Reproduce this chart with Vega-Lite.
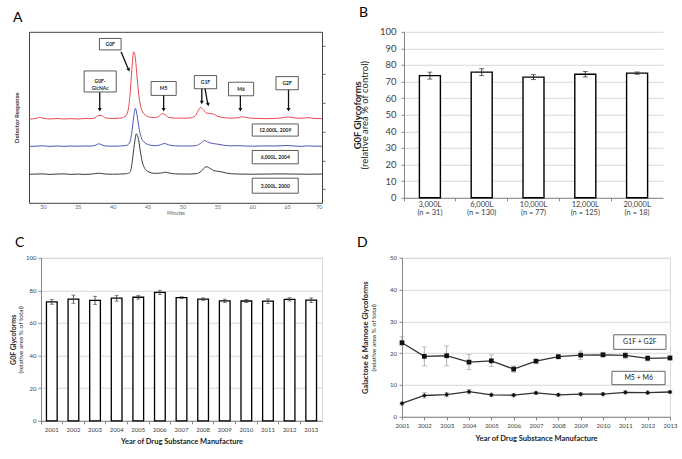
{
"$schema": "https://vega.github.io/schema/vega-lite/v6.json",
"background": "white",
"padding": {"left": 8, "top": 5.8, "right": 0, "bottom": 0},
"config": {
  "font": "Lato",
  "view": {"stroke": null},
  "title": {"anchor": "start", "frame": "group", "fontSize": 14, "fontWeight": "normal", "baseline": "alphabetic", "color": "#000", "font": "Lato"},
  "axis": {"labelColor": "#404040", "titleColor": "#222", "domainColor": "#868686", "tickColor": "#868686", "gridColor": "#d9d9d9", "labelFont": "Lato", "titleFont": "Lato"}
},
"datasets": {
  "trace": [
    {"s":"r","t":28,"y":49.0},{"s":"r","t":29,"y":49.3},{"s":"r","t":29.5,"y":50.0},{"s":"r","t":30,"y":49.5},{"s":"r","t":31,"y":49.0},{"s":"r","t":32,"y":49.3},{"s":"r","t":33,"y":49.0},{"s":"r","t":34,"y":49.2},{"s":"r","t":35,"y":49.0},{"s":"r","t":36,"y":49.3},{"s":"r","t":37,"y":49.2},{"s":"r","t":37.6,"y":50.0},{"s":"r","t":38,"y":51.2},{"s":"r","t":38.4,"y":51.0},{"s":"r","t":39,"y":49.6},{"s":"r","t":40,"y":49.3},{"s":"r","t":41,"y":49.5},{"s":"r","t":41.8,"y":50.5},{"s":"r","t":42.2,"y":54},{"s":"r","t":42.5,"y":64},{"s":"r","t":42.75,"y":78},{"s":"r","t":43.0,"y":88.2},{"s":"r","t":43.2,"y":86},{"s":"r","t":43.5,"y":73},{"s":"r","t":43.8,"y":61},{"s":"r","t":44.1,"y":55},{"s":"r","t":44.5,"y":52},{"s":"r","t":45,"y":50.5},{"s":"r","t":45.5,"y":50.0},{"s":"r","t":46,"y":49.8},{"s":"r","t":46.6,"y":50.5},{"s":"r","t":47.1,"y":52.2},{"s":"r","t":47.5,"y":51.5},{"s":"r","t":48,"y":50.0},{"s":"r","t":49,"y":49.5},{"s":"r","t":50,"y":49.5},{"s":"r","t":51,"y":49.6},{"s":"r","t":51.8,"y":50.6},{"s":"r","t":52.2,"y":53.5},{"s":"r","t":52.6,"y":55.8},{"s":"r","t":53,"y":54.5},{"s":"r","t":53.4,"y":52.5},{"s":"r","t":54,"y":52.2},{"s":"r","t":54.5,"y":51.8},{"s":"r","t":55,"y":50.6},{"s":"r","t":56,"y":49.8},{"s":"r","t":57,"y":49.5},{"s":"r","t":58,"y":49.8},{"s":"r","t":58.6,"y":50.3},{"s":"r","t":59.5,"y":49.6},{"s":"r","t":61,"y":49.3},{"s":"r","t":62,"y":49.2},{"s":"r","t":63,"y":49.3},{"s":"r","t":64,"y":49.5},{"s":"r","t":65.2,"y":50.2},{"s":"r","t":66,"y":49.7},{"s":"r","t":67,"y":49.4},{"s":"r","t":68,"y":49.8},{"s":"r","t":69,"y":49.3},{"s":"r","t":70,"y":49.2},
    {"s":"b","t":28,"y":33.0},{"s":"b","t":29,"y":33.1},{"s":"b","t":30,"y":33.3},{"s":"b","t":31,"y":33.0},{"s":"b","t":32,"y":33.2},{"s":"b","t":33,"y":33.0},{"s":"b","t":34,"y":33.2},{"s":"b","t":35,"y":33.1},{"s":"b","t":36,"y":33.2},{"s":"b","t":37,"y":33.2},{"s":"b","t":37.6,"y":33.8},{"s":"b","t":38,"y":34.5},{"s":"b","t":38.5,"y":33.8},{"s":"b","t":39,"y":33.2},{"s":"b","t":40,"y":33.1},{"s":"b","t":41,"y":33.2},{"s":"b","t":42,"y":33.6},{"s":"b","t":42.4,"y":35},{"s":"b","t":42.7,"y":40},{"s":"b","t":43.0,"y":50},{"s":"b","t":43.25,"y":55.3},{"s":"b","t":43.5,"y":51},{"s":"b","t":43.8,"y":43},{"s":"b","t":44.1,"y":38},{"s":"b","t":44.5,"y":35.5},{"s":"b","t":45,"y":34.2},{"s":"b","t":45.5,"y":33.6},{"s":"b","t":46,"y":33.4},{"s":"b","t":46.8,"y":33.8},{"s":"b","t":47.4,"y":34.7},{"s":"b","t":48,"y":33.9},{"s":"b","t":49,"y":33.3},{"s":"b","t":50,"y":33.2},{"s":"b","t":51,"y":33.2},{"s":"b","t":52,"y":33.5},{"s":"b","t":52.6,"y":34.8},{"s":"b","t":53.2,"y":36.4},{"s":"b","t":53.6,"y":35.6},{"s":"b","t":54.2,"y":34.8},{"s":"b","t":55,"y":34.3},{"s":"b","t":56,"y":33.6},{"s":"b","t":57,"y":33.3},{"s":"b","t":58,"y":33.4},{"s":"b","t":59,"y":33.2},{"s":"b","t":60,"y":33.1},{"s":"b","t":62,"y":33.3},{"s":"b","t":63,"y":33.2},{"s":"b","t":65,"y":33.5},{"s":"b","t":66,"y":33.2},{"s":"b","t":67,"y":33.0},{"s":"b","t":68,"y":33.3},{"s":"b","t":69,"y":33.1},{"s":"b","t":70,"y":33.1},
    {"s":"k","t":28,"y":16.7},{"s":"k","t":29,"y":16.8},{"s":"k","t":30,"y":16.9},{"s":"k","t":31,"y":16.6},{"s":"k","t":32,"y":16.8},{"s":"k","t":33,"y":16.9},{"s":"k","t":34,"y":16.6},{"s":"k","t":35,"y":16.8},{"s":"k","t":36,"y":16.6},{"s":"k","t":37,"y":16.8},{"s":"k","t":38,"y":17.3},{"s":"k","t":39,"y":16.8},{"s":"k","t":40,"y":16.7},{"s":"k","t":41,"y":16.8},{"s":"k","t":42,"y":17.0},{"s":"k","t":42.5,"y":18},{"s":"k","t":42.8,"y":24},{"s":"k","t":43.1,"y":34},{"s":"k","t":43.4,"y":40.3},{"s":"k","t":43.7,"y":37},{"s":"k","t":44.0,"y":29},{"s":"k","t":44.3,"y":23},{"s":"k","t":44.7,"y":19.5},{"s":"k","t":45.2,"y":18},{"s":"k","t":46,"y":17.2},{"s":"k","t":47,"y":17.4},{"s":"k","t":47.6,"y":17.9},{"s":"k","t":48.2,"y":17.3},{"s":"k","t":49,"y":16.9},{"s":"k","t":50,"y":16.8},{"s":"k","t":51,"y":16.8},{"s":"k","t":52,"y":17.0},{"s":"k","t":52.7,"y":18.5},{"s":"k","t":53.4,"y":21.1},{"s":"k","t":54,"y":20},{"s":"k","t":54.6,"y":18.7},{"s":"k","t":55.5,"y":18.2},{"s":"k","t":56.3,"y":17.4},{"s":"k","t":57,"y":17.0},{"s":"k","t":58,"y":16.8},{"s":"k","t":60,"y":16.7},{"s":"k","t":62,"y":16.8},{"s":"k","t":64,"y":16.9},{"s":"k","t":66,"y":16.8},{"s":"k","t":68,"y":16.7},{"s":"k","t":70,"y":16.8}
  ],
  "abox": [
    {"t":38.1,"t2":41.2,"y":89.4,"y2":96.1},
    {"t":35.9,"t2":40.5,"y":64.8,"y2":77.1},
    {"t":45.5,"t2":49.1,"y":62.8,"y2":70.9},
    {"t":51.7,"t2":54.9,"y":66.7,"y2":74.4},
    {"t":56.6,"t2":60.2,"y":62.6,"y2":70.5},
    {"t":63.4,"t2":66.6,"y":66.1,"y2":73.8},
    {"t":60.0,"t2":66.6,"y":39.0,"y2":46.1},
    {"t":60.0,"t2":66.6,"y":22.8,"y2":30.6},
    {"t":60.0,"t2":66.6,"y":5.6,"y2":14.4}
  ],
  "atext": [
    {"t":39.65,"y":92.75,"lab":"G0F"},
    {"t":38.2,"y":71,"lab":"G0F-|GlcNAc"},
    {"t":47.3,"y":66.85,"lab":"M5"},
    {"t":53.3,"y":70.55,"lab":"G1F"},
    {"t":58.4,"y":66.55,"lab":"M6"},
    {"t":65.0,"y":69.95,"lab":"G2F"},
    {"t":63.3,"y":42.55,"lab":"12,000L, 2009"},
    {"t":63.3,"y":26.7,"lab":"6,000L, 2004"},
    {"t":63.3,"y":10.0,"lab":"3,000L, 2000"}
  ],
  "arrow": [
    {"t":41.2,"y":88.4,"t2":42.2,"y2":78.6},
    {"t":38.14,"y":64.7,"t2":38.14,"y2":55.2},
    {"t":47.3,"y":62.8,"t2":47.3,"y2":55.2},
    {"t":52.77,"y":66.7,"t2":52.77,"y2":59.5},
    {"t":53.24,"y":66.7,"t2":53.6,"y2":58.3},
    {"t":58.3,"y":62.6,"t2":58.3,"y2":55.2},
    {"t":65.2,"y":66.1,"t2":65.2,"y2":55.2}
  ],
  "ahead": [
    {"t":42.3,"y":77.7,"ang":337},
    {"t":38.14,"y":54.4,"ang":0},
    {"t":47.3,"y":54.4,"ang":0},
    {"t":52.77,"y":58.7,"ang":0},
    {"t":53.68,"y":57.5,"ang":349},
    {"t":58.3,"y":54.4,"ang":0},
    {"t":65.2,"y":54.4,"ang":0}
  ],
  "bdat": [
    {"c":"3,000L|(n = 31)","v":73.6,"lo":71.5,"hi":75.7},
    {"c":"6,000L|(n = 130)","v":75.7,"lo":73.6,"hi":77.8},
    {"c":"10,000L|(n = 77)","v":72.7,"lo":71.2,"hi":74.2},
    {"c":"12,000L|(n = 125)","v":74.4,"lo":72.8,"hi":76.1},
    {"c":"20,000L|(n = 18)","v":75.1,"lo":74.4,"hi":75.8}
  ],
  "cdat": [
    {"yr":2001,"v":73.0,"lo":71.5,"hi":74.5},
    {"yr":2002,"v":74.6,"lo":72.1,"hi":77.1},
    {"yr":2003,"v":73.9,"lo":71.4,"hi":76.4},
    {"yr":2004,"v":75.2,"lo":73.4,"hi":77.0},
    {"yr":2005,"v":75.8,"lo":74.6,"hi":77.0},
    {"yr":2006,"v":78.8,"lo":77.5,"hi":80.1},
    {"yr":2007,"v":75.6,"lo":75.1,"hi":76.1},
    {"yr":2008,"v":74.6,"lo":73.8,"hi":75.4},
    {"yr":2009,"v":73.6,"lo":72.6,"hi":74.6},
    {"yr":2010,"v":73.5,"lo":72.5,"hi":74.5},
    {"yr":2011,"v":73.4,"lo":72.0,"hi":74.8},
    {"yr":2012,"v":74.5,"lo":73.5,"hi":75.5},
    {"yr":2013,"v":74.0,"lo":72.6,"hi":75.4}
  ],
  "ddat": [
    {"yr":2001,"s":"G1F + G2F","v":23.3,"lo":22.3,"hi":25.3},
    {"yr":2002,"s":"G1F + G2F","v":19.0,"lo":16.0,"hi":22.0},
    {"yr":2003,"s":"G1F + G2F","v":19.2,"lo":16.0,"hi":22.3},
    {"yr":2004,"s":"G1F + G2F","v":17.2,"lo":14.8,"hi":19.6},
    {"yr":2005,"s":"G1F + G2F","v":17.6,"lo":15.8,"hi":19.5},
    {"yr":2006,"s":"G1F + G2F","v":15.0,"lo":14.0,"hi":16.0},
    {"yr":2007,"s":"G1F + G2F","v":17.5,"lo":16.9,"hi":18.1},
    {"yr":2008,"s":"G1F + G2F","v":18.9,"lo":18.2,"hi":19.6},
    {"yr":2009,"s":"G1F + G2F","v":19.4,"lo":18.0,"hi":20.7},
    {"yr":2010,"s":"G1F + G2F","v":19.5,"lo":18.8,"hi":20.3},
    {"yr":2011,"s":"G1F + G2F","v":19.3,"lo":18.3,"hi":20.3},
    {"yr":2012,"s":"G1F + G2F","v":18.4,"lo":17.6,"hi":19.2},
    {"yr":2013,"s":"G1F + G2F","v":18.5,"lo":17.9,"hi":19.1},
    {"yr":2001,"s":"M5 + M6","v":4.2,"lo":3.7,"hi":4.7},
    {"yr":2002,"s":"M5 + M6","v":6.7,"lo":5.9,"hi":7.6},
    {"yr":2003,"s":"M5 + M6","v":7.0,"lo":6.3,"hi":7.7},
    {"yr":2004,"s":"M5 + M6","v":7.9,"lo":7.2,"hi":8.6},
    {"yr":2005,"s":"M5 + M6","v":6.9,"lo":6.4,"hi":7.4},
    {"yr":2006,"s":"M5 + M6","v":6.8,"lo":6.3,"hi":7.3},
    {"yr":2007,"s":"M5 + M6","v":7.5,"lo":7.0,"hi":8.0},
    {"yr":2008,"s":"M5 + M6","v":6.9,"lo":6.5,"hi":7.3},
    {"yr":2009,"s":"M5 + M6","v":7.1,"lo":6.6,"hi":7.6},
    {"yr":2010,"s":"M5 + M6","v":7.1,"lo":6.6,"hi":7.6},
    {"yr":2011,"s":"M5 + M6","v":7.7,"lo":7.2,"hi":8.2},
    {"yr":2012,"s":"M5 + M6","v":7.6,"lo":7.1,"hi":8.1},
    {"yr":2013,"s":"M5 + M6","v":7.8,"lo":7.3,"hi":8.3}
  ],
  "dbox": [
    {"yr":2010.48,"yr2":2012.82,"v":21.2,"v2":25.8},
    {"yr":2010.4,"yr2":2012.78,"v":10.1,"v2":14.3}
  ],
  "dtext": [
    {"yr":2011.65,"v":23.5,"lab":"G1F + G2F"},
    {"yr":2011.6,"v":12.2,"lab":"M5 + M6"}
  ]
},
"spacing": 18,
"vconcat": [
  {"spacing": 26, "hconcat": [
    {
      "width": 293, "height": 171,
      "view": {"stroke": "#404040", "strokeWidth": 1},
      "title": {"text": "A", "dx": -16, "offset": 7},
      "encoding": {"x": {"field": "t", "type": "quantitative", "scale": {"domain": [28, 70], "nice": false, "zero": false},
        "axis": {"values": [30,35,40,45,50,55,60,65,70], "grid": false, "ticks": false, "domain": false, "labelFontSize": 5.5, "labelPadding": 1.5, "labelColor": "#666", "title": "Minutes", "titleFontSize": 5, "titleFontWeight": "normal", "titleColor": "#666", "titlePadding": 1}}},
      "layer": [
        {"data": {"name": "trace"}, "mark": {"type": "line", "strokeWidth": 1, "interpolate": "monotone"},
         "encoding": {"y": {"field": "y", "type": "quantitative", "scale": {"domain": [0, 100], "nice": false},
            "axis": {"title": "Detector Response", "titleFontSize": 6, "titleFontWeight": "bold", "titleColor": "#333", "titlePadding": 9.5, "labels": false, "ticks": false, "domain": false, "grid": false}},
          "color": {"field": "s", "type": "nominal", "scale": {"domain": ["r","b","k"], "range": ["#e8484f","#4b55b4","#3a3a3a"]}, "legend": null}}},
        {"data": {"name": "abox"}, "mark": {"type": "rect", "fill": "white", "stroke": "#333", "strokeWidth": 0.8},
         "encoding": {"x2": {"field": "t2"}, "y": {"field": "y", "type": "quantitative", "scale": {"domain": [0, 100], "nice": false},
            "axis": {"orient": "right", "values": [8, 24.8, 41.6, 58.4, 75.2, 92], "labels": false, "tickSize": 3, "tickColor": "#666", "domain": false, "grid": false, "title": null}},
          "y2": {"field": "y2"}}},
        {"data": {"name": "atext"}, "mark": {"type": "text", "fontSize": 5, "fontWeight": "bold", "lineBreak": "|", "color": "#222", "lineHeight": 6.5, "baseline": "middle"},
         "encoding": {"y": {"field": "y", "type": "quantitative", "scale": {"domain": [0, 100], "nice": false}, "axis": null}, "text": {"field": "lab"}}},
        {"data": {"name": "arrow"}, "mark": {"type": "rule", "strokeWidth": 1.3, "color": "#111"},
         "encoding": {"x2": {"field": "t2"}, "y": {"field": "y", "type": "quantitative", "scale": {"domain": [0, 100], "nice": false}, "axis": null}, "y2": {"field": "y2"}}},
        {"data": {"name": "ahead"}, "mark": {"type": "point", "shape": "triangle-down", "filled": true, "size": 16, "color": "#111", "opacity": 1},
         "encoding": {"y": {"field": "y", "type": "quantitative", "scale": {"domain": [0, 100], "nice": false}, "axis": null}, "angle": {"field": "ang", "type": "quantitative", "scale": null}}}
      ],
      "resolve": {"axis": {"y": "independent"}}
    },
    {
      "width": 259, "height": 166,
      "title": {"text": "B", "dx": -45, "offset": 7},
      "data": {"name": "bdat"},
      "encoding": {"x": {"field": "c", "type": "nominal", "sort": null, "scale": {"paddingInner": 0, "paddingOuter": 0},
        "axis": {"title": null, "labelAngle": 0, "labelExpr": "split(datum.value, '|')", "labelFontSize": 7.5, "labelLineHeight": 7.5, "labelColor": "#404040", "labelPadding": 0, "labelBaseline": "top", "tickSize": 3, "bandPosition": 0, "labelOverlap": false}}},
      "layer": [
        {"mark": {"type": "bar", "fill": "white", "stroke": "#000", "strokeWidth": 1.4, "width": 21},
         "encoding": {"y": {"field": "v", "type": "quantitative", "scale": {"domain": [0, 100], "nice": false},
           "axis": {"values": [0,10,20,30,40,50,60,70,80,90,100], "grid": true, "tickSize": 3, "labelPadding": 5, "labelFontSize": 9.5, "title": "G0F Glycoforms", "titleFontSize": 9.5, "titleFontWeight": "bold", "titlePadding": 17}}}},
        {"mark": {"type": "errorbar", "ticks": true, "size": 5, "color": "#222", "thickness": 0.9},
         "encoding": {"y": {"field": "lo", "type": "quantitative", "scale": {"domain": [0, 100], "nice": false}, "axis": null}, "y2": {"field": "hi"}}},
        {"mark": {"type": "bar", "opacity": 0},
         "encoding": {"y": {"field": "v", "type": "quantitative", "scale": {"domain": [0, 100], "nice": false},
           "axis": {"orient": "left", "labels": false, "ticks": false, "domain": false, "grid": false, "title": "(relative area % of control)", "titleFontSize": 9.5, "titleFontWeight": "normal", "titlePadding": 34}}}}
      ],
      "resolve": {"axis": {"y": "independent"}}
    }
  ]},
  {"spacing": 33, "hconcat": [
    {"spacing": -23, "hconcat": [
      {"width": 1, "height": 1, "view": {"stroke": "transparent"}, "data": {"values": []}, "mark": "point"},
      {
        "width": 281, "height": 163,
        "view": {"stroke": "#d9d9d9"},
        "title": {"text": "C", "dx": -26, "offset": 5},
        "data": {"name": "cdat"},
        "encoding": {"x": {"field": "yr", "type": "ordinal", "scale": {"paddingInner": 0, "paddingOuter": 0},
          "axis": {"title": "Year of Drug Substance Manufacture", "titleFontSize": 7.5, "titleFontWeight": "bold", "titlePadding": 5, "labelAngle": 0, "labelFontSize": 6, "labelPadding": 3, "tickSize": 3, "bandPosition": 0}}},
        "layer": [
          {"mark": {"type": "bar", "fill": "white", "stroke": "#000", "strokeWidth": 1.3, "width": 10.7},
           "encoding": {"y": {"field": "v", "type": "quantitative", "scale": {"domain": [0, 100], "nice": false},
             "axis": {"values": [0,20,40,60,80,100], "grid": true, "tickSize": 3, "labelPadding": 2, "labelFontSize": 6, "title": "G0F Glycoforms", "titleFontSize": 7, "titleFontWeight": "bold", "titlePadding": 9.5}}}},
          {"mark": {"type": "errorbar", "ticks": true, "size": 4, "color": "#333", "thickness": 0.8},
           "encoding": {"y": {"field": "lo", "type": "quantitative", "scale": {"domain": [0, 100], "nice": false}, "axis": null}, "y2": {"field": "hi"}}},
          {"mark": {"type": "bar", "opacity": 0},
           "encoding": {"y": {"field": "v", "type": "quantitative", "scale": {"domain": [0, 100], "nice": false},
             "axis": {"orient": "left", "labels": false, "ticks": false, "domain": false, "grid": false, "title": "(relative area % of total)", "titleFontSize": 6.5, "titleFontWeight": "normal", "titlePadding": 18}}}}
        ],
        "resolve": {"axis": {"y": "independent"}}
      }
    ]},
    {
      "width": 268, "height": 159,
      "view": {"stroke": "#d9d9d9"},
      "title": {"text": "D", "dx": -45, "offset": 5},
      "encoding": {"x": {"field": "yr", "type": "quantitative", "scale": {"domain": [2001, 2013], "nice": false, "zero": false},
        "axis": {"values": [2001,2002,2003,2004,2005,2006,2007,2008,2009,2010,2011,2012,2013], "format": "d", "grid": false, "title": "Year of Drug Substance Manufacture", "titleFontSize": 7.5, "titleFontWeight": "bold", "titlePadding": 6, "labelFontSize": 6, "labelPadding": 3, "tickSize": 3, "labelFlush": false}}},
      "layer": [
        {"data": {"name": "ddat"}, "mark": {"type": "errorbar", "ticks": true, "size": 5, "color": "#999", "thickness": 0.8},
         "encoding": {"y": {"field": "lo", "type": "quantitative", "scale": {"domain": [0, 50], "nice": false}, "axis": null}, "y2": {"field": "hi"}, "detail": {"field": "s"}}},
        {"data": {"name": "ddat"}, "mark": {"type": "line", "color": "#333", "strokeWidth": 1.3},
         "encoding": {"y": {"field": "v", "type": "quantitative", "scale": {"domain": [0, 50], "nice": false},
           "axis": {"values": [0,10,20,30,40,50], "grid": true, "tickSize": 3, "labelPadding": 2.5, "labelFontSize": 6, "title": "Galactose & Mannose Glycoforms", "titleFontSize": 7.5, "titleFontWeight": "bold", "titlePadding": 20}},
          "detail": {"field": "s"}}},
        {"data": {"name": "ddat"}, "mark": {"type": "point", "filled": true, "color": "#111", "size": 22, "opacity": 1},
         "encoding": {"y": {"field": "v", "type": "quantitative", "scale": {"domain": [0, 50], "nice": false}, "axis": null},
          "shape": {"field": "s", "type": "nominal", "scale": {"domain": ["G1F + G2F", "M5 + M6"], "range": ["square", "diamond"]}, "legend": null}}},
        {"data": {"name": "dbox"}, "mark": {"type": "rect", "fill": "white", "stroke": "#555", "strokeWidth": 0.9},
         "encoding": {"x2": {"field": "yr2"}, "y": {"field": "v", "type": "quantitative", "scale": {"domain": [0, 50], "nice": false},
           "axis": {"orient": "left", "labels": false, "ticks": false, "domain": false, "grid": false, "title": "(relative area % of total)", "titleFontSize": 6.5, "titleFontWeight": "normal", "titlePadding": 25}},
          "y2": {"field": "v2"}}},
        {"data": {"name": "dtext"}, "mark": {"type": "text", "fontSize": 7, "color": "#222", "baseline": "middle"},
         "encoding": {"y": {"field": "v", "type": "quantitative", "scale": {"domain": [0, 50], "nice": false}, "axis": null}, "text": {"field": "lab"}}}
      ],
      "resolve": {"axis": {"y": "independent"}}
    }
  ]}
]
}
